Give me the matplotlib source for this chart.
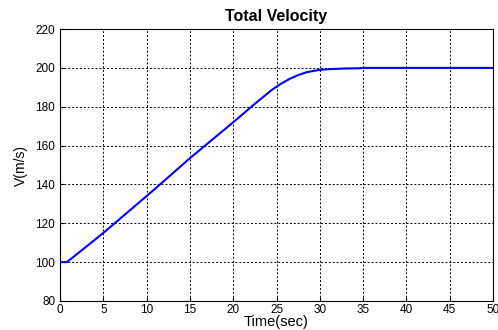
import numpy as np
import matplotlib.pyplot as plt

plt.rcParams['font.family'] = ['Liberation Sans', 'DejaVu Sans']

# values
time_sec = [0, 0.8, 5, 10, 11.5, 15, 20, 22.5, 24.5, 25.5, 26.5, 27.5, 28.5, 30, 31.3, 33, 34.5, 35, 50]
velocity = [100, 100, 115, 134, 139.8, 153.5, 172, 181.5, 188.8, 191.8, 194.3, 196.3, 197.8, 199, 199.4, 199.7, 199.8, 200, 200]

x_ticks = [0, 5, 10, 15, 20, 25, 30, 35, 40, 45, 50]
y_ticks = [80, 100, 120, 140, 160, 180, 200, 220]

fig = plt.figure(figsize=(4.98, 3.30), dpi=100)
ax = fig.add_axes([0.1205, 0.088, 0.8695, 0.824])

ax.plot(time_sec, velocity, color='#0000ff', linewidth=1.5)

ax.set_xlim(0, 50)
ax.set_ylim(80, 220)
ax.set_xticks(x_ticks)
ax.set_yticks(y_ticks)
ax.tick_params(direction='in', labelsize=8.5, length=3)
ax.tick_params(axis='x', pad=2)
ax.grid(True, color='black', linestyle=(0, (2, 2)), linewidth=0.7)

ax.set_title('Total Velocity', fontsize=11.5, fontweight='bold', pad=6)
ax.set_xlabel('Time(sec)', fontsize=10.5, labelpad=-0.5)
ax.set_ylabel('V(m/s)', fontsize=10, labelpad=5)

fig.savefig('out.png', dpi=100)
